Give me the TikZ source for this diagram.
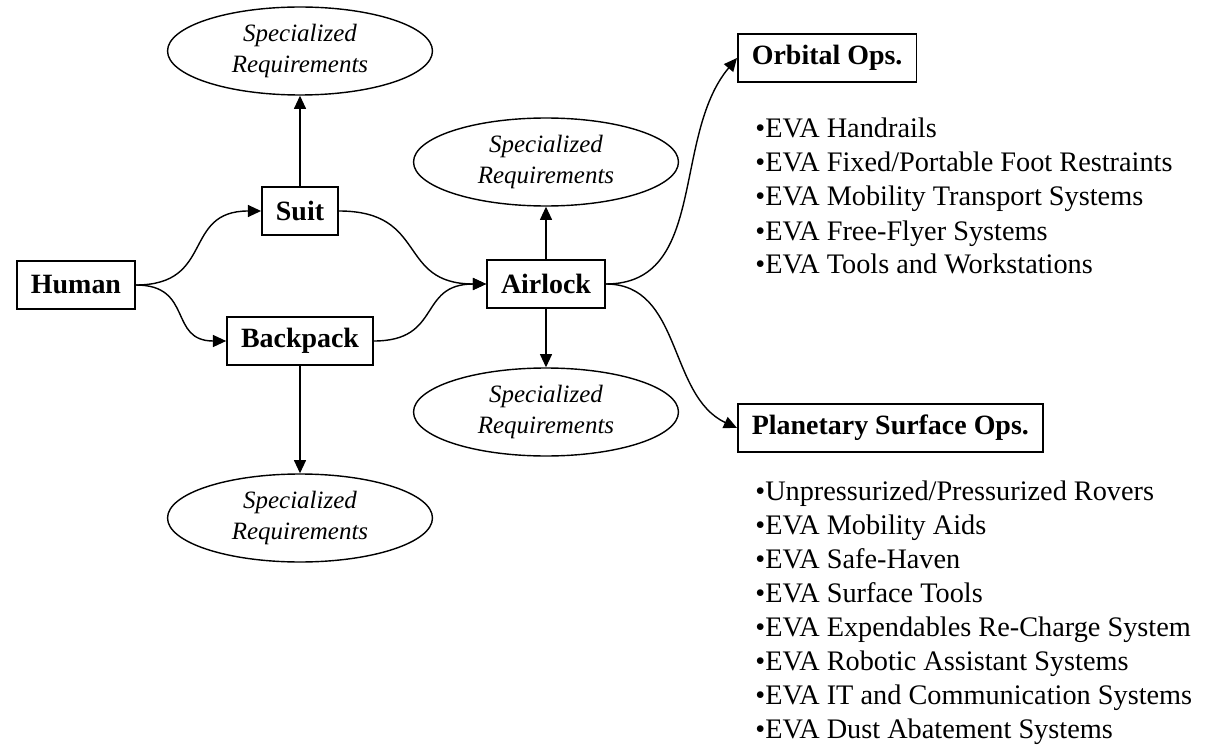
\documentclass[tikz,border=0pt]{standalone}
\usepackage{fontspec}
\setmainfont{Liberation Serif}
\usetikzlibrary{arrows.meta,shapes.geometric}
\tikzset{
  stage node/.style={draw,line width=0.9pt,minimum height=0.96cm,inner xsep=8pt,
    font=\fontsize{15.9}{18}\selectfont\bfseries},
  req node/.style={draw,ellipse,line width=0.8pt,minimum width=5.3cm,
    minimum height=1.76cm,inner sep=0pt,align=center,
    font=\fontsize{14.2}{17.6}\selectfont\itshape},
  flow arrow/.style={-{Triangle[length=7.5pt,width=6.8pt]},line width=0.8pt},
  item label/.style={anchor=base west,inner sep=0pt,
    font=\fontsize{16.1}{19}\selectfont},
}

\begin{document}
\begin{tikzpicture}[x=0.02cm,y=-0.02cm]
  \useasboundingbox (0,0) rectangle (1213,753);

  % EVA elements
  \node[stage node] (human) at (76,285) {Human};
  \node[stage node] (suit) at (300,211) {Suit};
  \node[stage node] (backpack) at (300,341) {Backpack};
  \node[stage node] (airlock) at (546,284) {Airlock};
  \node[stage node,anchor=west] (orbital) at (737,58) {Orbital Ops.};
  \node[stage node,anchor=west] (surface) at (737,428) {Planetary Surface Ops.};

  % Requirements for each element
  \node[req node] (suitreq) at (300,51) {Specialized\\Requirements};
  \node[req node] (lockreqa) at (546,162) {Specialized\\Requirements};
  \node[req node] (lockreqb) at (546,412) {Specialized\\Requirements};
  \node[req node] (packreq) at (300,518) {Specialized\\Requirements};

  % Connections
  \draw[flow arrow] (human.east) to[out=0,in=180,looseness=1.4] (suit.west);
  \draw[flow arrow] (human.east) to[out=0,in=180,looseness=1.4] (backpack.west);
  \draw[flow arrow] (suit.east) to[out=0,in=180,looseness=1.4] (airlock.west);
  \draw[flow arrow] (backpack.east) to[out=0,in=180,looseness=1.4] (airlock.west);
  \draw[flow arrow] (suit) -- (suitreq);
  \draw[flow arrow] (backpack) -- (packreq);
  \draw[flow arrow] (airlock) -- (lockreqa);
  \draw[flow arrow] (airlock) -- (lockreqb);
  \draw[flow arrow] (airlock.east) to[out=0,in=230] (orbital.west);
  \draw[flow arrow] (airlock.east) to[out=0,in=155] (surface.west);

  % Orbital operations list
  \foreach \entry [count=\i from 0] in {EVA Handrails,
      EVA Fixed/Portable Foot Restraints,EVA Mobility Transport Systems,
      EVA Free-Flyer Systems,EVA Tools and Workstations}
    \node[item label] (orb\i) at (755,138+34*\i) {\textbullet\entry};

  % Planetary surface operations list
  \foreach \entry [count=\i from 0] in {Unpressurized/Pressurized Rovers,
      EVA Mobility Aids,EVA Safe-Haven,EVA Surface Tools,
      EVA Expendables Re-Charge System,EVA Robotic Assistant Systems,
      EVA IT and Communication Systems,EVA Dust Abatement Systems}
    \node[item label] (srf\i) at (755,500+34*\i) {\textbullet\entry};
\end{tikzpicture}
\end{document}
